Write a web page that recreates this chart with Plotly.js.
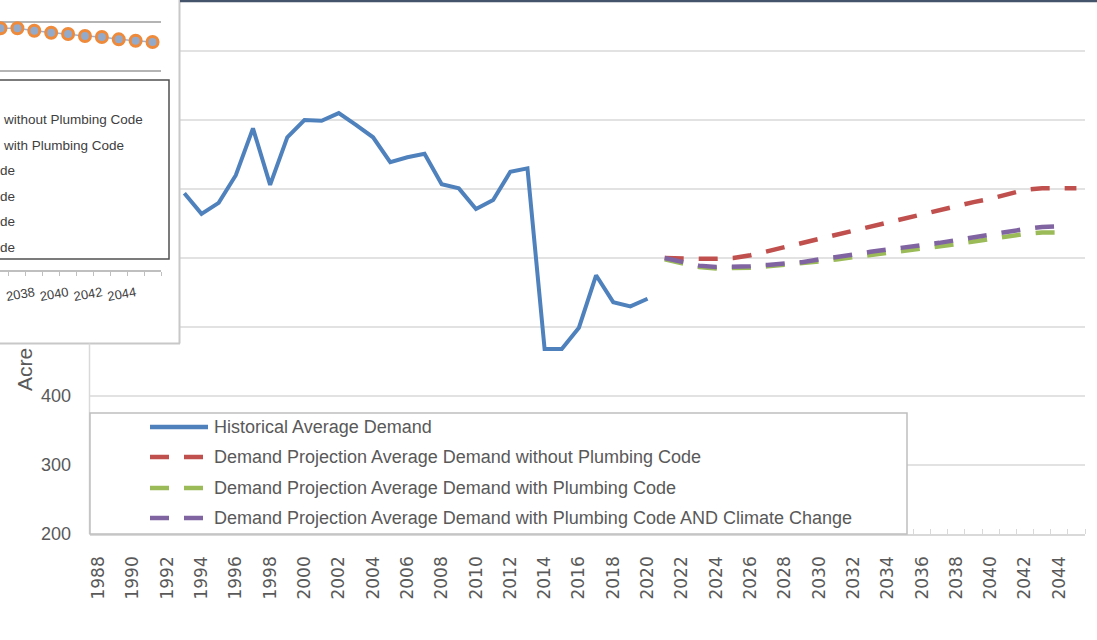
<!DOCTYPE html>
<html><head><meta charset="utf-8">
<script src="https://cdn.plot.ly/plotly-3.0.1.min.js"></script>
<style>html,body{margin:0;padding:0;background:#fff;overflow:hidden}#chart{width:1097px;height:640px}</style>
</head><body><div id="chart"></div>
<script>
// ---------- data ----------
const histYears = [1993,1994,1995,1996,1997,1998,1999,2000,2001,2002,2003,2004,2005,2006,2007,2008,2009,2010,2011,2012,2013,2014,2015,2016,2017,2018,2019,2020];
const histDemand = [694,664,680,720,788,706,775,800,799,810,793,775,739,746,751,707,701,671,684,725,730,468,468,499,575,536,530,541];

const projYearsNoCode = [2021,2022,2023,2024,2025,2026,2027,2028,2029,2030,2031,2032,2033,2034,2035,2036,2037,2038,2039,2040,2041,2042,2043,2044,2045];
const projNoCode = [600,599,599,599,600,604,610,616,622,627,633,640,646,652,658,664,670,676,681,686,692,699,701,701,701];

const projYearsCode = [2021,2022,2023,2024,2025,2026,2027,2028,2029,2030,2031,2032,2033,2034,2035,2036,2037,2038,2039,2040,2041,2042,2043,2044];
const projWithCode = [598,592,587,585,585,586,588,590,592,595,598,601,605,607,610,613,616,620,624,628,632,635,637,637];
const projClimate = [600,594,589,587,587,588,590,592,594,598,601,605,609,612,615,618,622,626,630,635,639,642,645,646];

const seriesNames = [
  "Historical Average Demand",
  "Demand Projection Average Demand without Plumbing Code",
  "Demand Projection Average Demand with Plumbing Code",
  "Demand Projection Average Demand with Plumbing Code AND Climate Change"
];
const seriesColors = ["#4F81BD","#C0504D","#9BBB59","#8064A2"];

const xTickYears = [1988,1990,1992,1994,1996,1998,2000,2002,2004,2006,2008,2010,2012,2014,2016,2018,2020,2022,2024,2026,2028,2030,2032,2034,2036,2038,2040,2042,2044];
const xTickLabels = ["1988","1990","1992","1994","1996","1998","2000","2002","2004","2006","2008","2010","2012","2014","2016","2018","2020","2022","2024","2026","2028","2030","2032","2034","2036","2038","2040","2042","2044"];
const yTickVals = [200,300,400,500,600,700,800,900];
const yTickLabels = ["200","300","400","","","","",""];
const yTitleVisible = "Acre";

// partly hidden inset chart (top-left)
const insetYears = [2036,2037,2038,2039,2040,2041,2042,2043,2044,2045];
const insetValues = [93.6,93.6,91.1,89.1,87.8,85.7,84.7,82.3,80.9,79.6];
const insetTickYears = [2038,2040,2042,2044];
const insetTickLabels = ["2038","2040","2042","2044"];
const insetLegendLeft = ["without Plumbing Code","with Plumbing Code"];
const insetLegendRight = ["de","de","de","de"];

// ---------- layout helpers ----------
const W = 1097, H = 534;           // paper size in px (bottom margin 106)
const px = x => x / W;
const py = y => 1 - y / H;
const FONT = "Liberation Sans, Arial, sans-serif";
const GREY = "#595959";
const YMIN = 200, YMAX = 974;
const yPix = v => H - (v - YMIN) / (YMAX - YMIN) * H;

const dash = "19px,15px";
const traces = [
  {x: histYears, y: histDemand, name: seriesNames[0], type: "scatter", mode: "lines",
   line: {color: seriesColors[0], width: 4}, xaxis: "x", yaxis: "y"},
  {x: projYearsNoCode, y: projNoCode, name: seriesNames[1], type: "scatter", mode: "lines",
   line: {color: seriesColors[1], width: 4.5, dash: dash}},
  {x: projYearsCode, y: projWithCode, name: seriesNames[2], type: "scatter", mode: "lines",
   line: {color: seriesColors[2], width: 4.5, dash: dash}},
  {x: projYearsCode, y: projClimate, name: seriesNames[3], type: "scatter", mode: "lines",
   line: {color: seriesColors[3], width: 4.5, dash: dash}},
  {x: insetYears, y: insetValues, type: "scatter", mode: "lines+markers", xaxis: "x2", yaxis: "y2",
   line: {color: "#9db3d6", width: 1.5},
   marker: {size: 11, color: "#94aacb", line: {color: "#ee8a3a", width: 3}}, cliponaxis: false}
];

const shapes = [];
// main horizontal gridlines (the part behind the inset window is not visible)
yTickVals.slice(1).forEach(v => {
  shapes.push({type: "line", xref: "paper", yref: "y", x0: px(yPix(v) < 343 ? 180 : 90), x1: px(1085),
    y0: v, y1: v, line: {color: "#d9d9d9", width: 1.5}, layer: "below"});
});
shapes.push(
  // inset window border
  {type: "line", xref: "paper", yref: "paper", x0: px(179.5), x1: px(179.5), y0: py(-2), y1: py(343.5),
   line: {color: "#c8c8c8", width: 2}, layer: "above"},
  {type: "line", xref: "paper", yref: "paper", x0: px(-2), x1: px(180), y0: py(343.5), y1: py(343.5),
   line: {color: "#c8c8c8", width: 2}, layer: "above"},
  // window top edge
  {type: "line", xref: "paper", yref: "paper", x0: px(180), x1: px(1100), y0: py(1), y1: py(1),
   line: {color: "#44546a", width: 2.5}, layer: "above"},
  // main y axis line (visible part)
  {type: "line", xref: "paper", yref: "paper", x0: px(89.5), x1: px(89.5), y0: py(343.5), y1: py(534),
   line: {color: "#d9d9d9", width: 1.5}, layer: "above"},
  // main legend box
  {type: "rect", xref: "paper", yref: "paper", x0: px(90), x1: px(907), y0: py(534), y1: py(413),
   fillcolor: "#ffffff", line: {color: "#bfbfbf", width: 1.5}, layer: "above"},
  // inset legend box
  {type: "rect", xref: "paper", yref: "paper", x0: px(-3), x1: px(169), y0: py(259), y1: py(80),
   fillcolor: "#ffffff", line: {color: "#505050", width: 1.5}, layer: "above"}
);

const annotations = [];
const legendRowsY = [427, 457, 488, 518];
seriesNames.forEach((nm, i) => {
  shapes.push({type: "line", xref: "paper", yref: "paper", x0: px(150), x1: px(i === 0 ? 208 : 205),
    y0: py(legendRowsY[i]), y1: py(legendRowsY[i]),
    line: {color: seriesColors[i], width: 4.5, dash: i === 0 ? "solid" : dash}, layer: "above"});
  annotations.push({xref: "paper", yref: "paper", x: px(212), y: py(legendRowsY[i]), xanchor: "left", yanchor: "middle",
    text: nm, showarrow: false, font: {family: FONT, size: 18, color: GREY}});
});
const insetRowsY = [119, 145, 170, 196, 221, 247];
insetLegendLeft.forEach((t, i) => annotations.push({xref: "paper", yref: "paper", x: px(1), y: py(insetRowsY[i]),
  xanchor: "left", yanchor: "middle", text: t, showarrow: false, font: {family: FONT, size: 13.5, color: "#404040"}}));
insetLegendRight.forEach((t, i) => annotations.push({xref: "paper", yref: "paper", x: px(17), y: py(insetRowsY[i + 2]),
  xanchor: "right", yanchor: "middle", text: t, showarrow: false, font: {family: FONT, size: 13.5, color: "#404040"}}));
annotations.push({xref: "paper", yref: "paper", x: px(24), y: py(370), xanchor: "center", yanchor: "middle",
  text: yTitleVisible, textangle: -90, showarrow: false, font: {family: FONT, size: 21, color: GREY}});

const layout = {
  width: 1097, height: 640,
  margin: {l: 0, r: 0, t: 0, b: 106},
  paper_bgcolor: "#ffffff", plot_bgcolor: "rgba(0,0,0,0)",
  showlegend: false,
  xaxis: {domain: [px(90), px(1085)], range: [1987.5, 2045.5], anchor: "y",
    tickmode: "array", tickvals: xTickYears, ticktext: xTickLabels, tickangle: -90,
    ticks: "", ticklabelstandoff: 14,
    tickfont: {family: "DejaVu Sans, sans-serif", size: 17, color: GREY},
    minor: {tickmode: "linear", tick0: 1987.5, dtick: 1, ticks: "inside", ticklen: 5, tickcolor: "#d9d9d9", tickwidth: 1, showgrid: false},
    showgrid: false, zeroline: false, showline: true, linecolor: "#d9d9d9", linewidth: 1.5},
  yaxis: {domain: [0, 1], range: [YMIN, YMAX], anchor: "x",
    tickmode: "array", tickvals: yTickVals, ticktext: yTickLabels, ticks: "", ticklabelstandoff: 18,
    tickfont: {family: FONT, size: 18, color: GREY},
    showgrid: false, zeroline: false, showline: false},
  xaxis2: {domain: [0, px(161)], range: [2035.97, 2045.5], anchor: "free", position: py(270),
    tickmode: "array", tickvals: insetTickYears, ticktext: insetTickLabels, tickangle: -10, ticks: "",
    ticklabelstandoff: 9, tickfont: {family: FONT, size: 13, color: "#404040"},
    minor: {tickmode: "linear", tick0: 2036.5, dtick: 1, ticks: "outside", ticklen: 4, tickcolor: "#bfbfbf", tickwidth: 1, showgrid: false},
    showgrid: false, zeroline: false, showline: true, linecolor: "#bfbfbf", linewidth: 1.5},
  yaxis2: {domain: [py(76), py(10)], range: [44.9, 112.24], anchor: "x2",
    tickmode: "array", tickvals: [50, 100], showticklabels: false, ticks: "",
    showgrid: true, gridcolor: "#b4b4b4", gridwidth: 1.5, zeroline: false, showline: false},
  shapes: shapes,
  annotations: annotations
};

Plotly.newPlot("chart", traces, layout, {displayModeBar: false, staticPlot: true});
</script></body></html>
